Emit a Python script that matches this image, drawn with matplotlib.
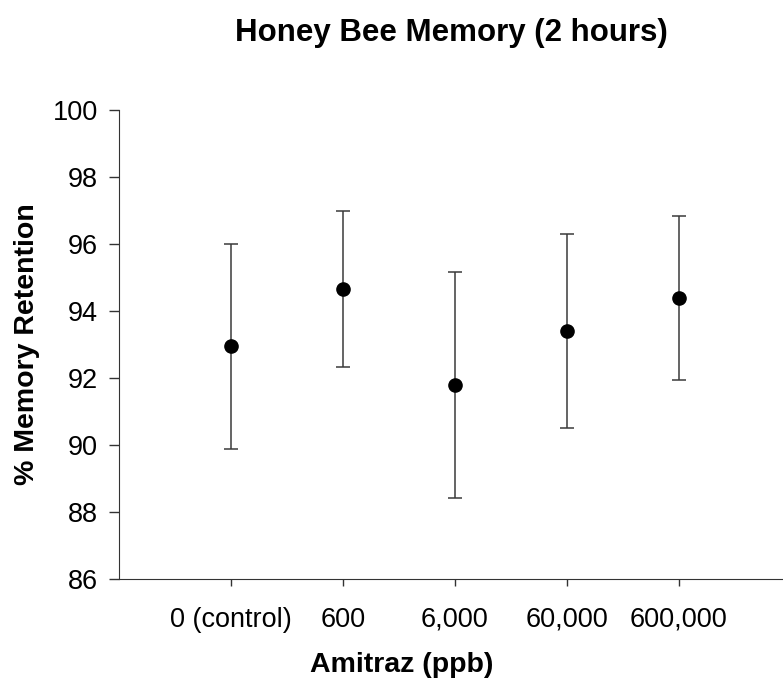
import numpy as np
from matplotlib import pyplot as plt

# Honey bee memory retention vs amitraz dose
doses = ["0 (control)", "600", "6,000", "60,000", "600,000"]
retention = [92.95, 94.65, 91.78, 93.40, 94.38]
err = [3.06, 2.33, 3.37, 2.89, 2.45]

plt.rcParams["font.family"] = ["Liberation Sans", "DejaVu Sans"]

fig = plt.figure(figsize=(7.83, 6.81), dpi=100)
ax = fig.add_axes([0.152, 0.150, 0.848, 0.6885])

x = np.arange(len(doses))
ax.errorbar(x, retention, yerr=err, fmt="o", color="black", markersize=9.5,
            ecolor="#3a3a3a", elinewidth=1.1, capsize=5.3, capthick=1.1)

ax.set_xlim(-1, 4.93)
ax.set_ylim(86, 100)
ax.set_yticks(np.arange(86, 101, 2))
ax.set_xticks(x)
ax.set_xticklabels(doses)

ax.spines["top"].set_visible(False)
ax.spines["right"].set_visible(False)
ax.spines["left"].set_color("#333333")
ax.spines["bottom"].set_color("#333333")
ax.tick_params(axis="y", length=7, width=1, pad=8, labelsize=19.5, color="#333333")
ax.tick_params(axis="x", length=5, width=1, pad=15, labelsize=19.5, color="#333333")

ax.set_title("Honey Bee Memory (2 hours)", fontsize=22.5, fontweight="bold", pad=50)
ax.set_xlabel("Amitraz (ppb)", fontsize=20.5, fontweight="bold")
ax.xaxis.set_label_coords(0.425, -0.155)
ax.set_ylabel("% Memory Retention", fontsize=20.5, fontweight="bold")
ax.yaxis.set_label_coords(-0.119, 0.5)

fig.savefig("out.png", dpi=100)
